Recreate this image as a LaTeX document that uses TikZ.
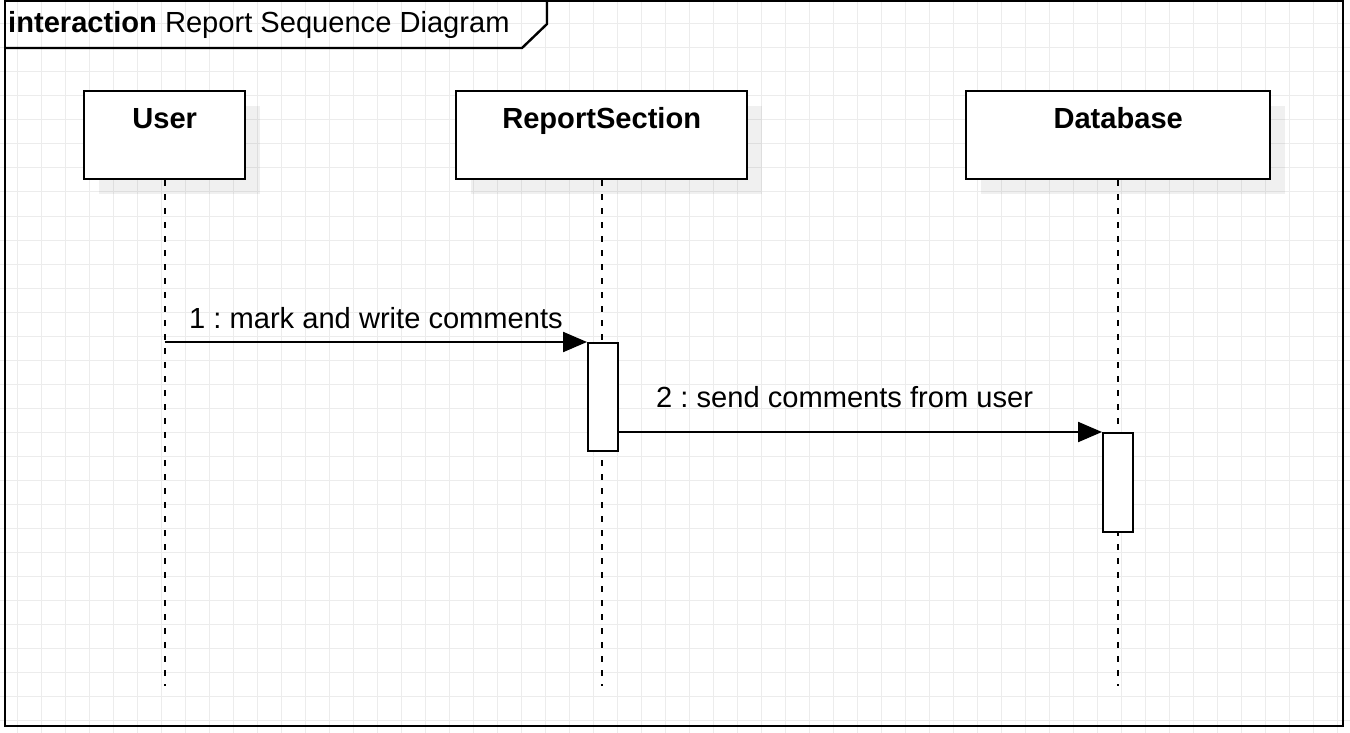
\documentclass[tikz,border=0pt]{standalone}
\usepackage{fontspec}
\setmainfont{Liberation Sans}
\usetikzlibrary{arrows.meta,shadows}
\frenchspacing

\definecolor{gridgray}{RGB}{236,236,236}
\newcommand{\diafont}{\fontsize{29.1}{34}\selectfont}

\begin{document}
\begin{tikzpicture}[x=1pt,y=-1pt,
    gridline/.style={draw=gridgray, line width=1pt},
    lifebox/.style={draw, line width=2.4pt, fill=white, anchor=north west,
      inner sep=0pt, minimum height=88pt, text height=20pt, text depth=34pt,
      font=\diafont\bfseries,
      drop shadow={shadow xshift=15pt, shadow yshift=-15pt, fill=black, opacity=0.06}},
    actbox/.style={draw, line width=2.2pt, fill=white, anchor=north west,
      inner sep=0pt, minimum width=30pt},
    lifeline/.style={line width=2.2pt, dash pattern=on 6pt off 8pt},
    msg/.style={line width=2.2pt, -{Triangle[length=24pt,width=20pt]}},
    msglabel/.style={anchor=base west, inner sep=0pt, font=\diafont}]
        \def \W {1350}
        \def \H {733}

        \fill[white] (0,0) rectangle (\W,\H);
        \useasboundingbox (0,0) rectangle (\W,\H);

        % background grid
        \foreach \gx in {17,41,...,1337}
          \draw[gridline] (\gx,0) -- (\gx,\H);
        \foreach \gy in {0,24,...,720}
          \draw[gridline] (0,\gy) -- (\W,\gy);

        % frame and its title tab
        \draw[line width=2.6pt] (5,1) rectangle (1343,726);
        \draw[line width=2.4pt] (5,48) -- (522,48) -- (547,24) -- (547,1);
        \node[msglabel] (title) at (8,33) {\textbf{interaction} Report Sequence Diagram};

        % lifelines
        \node[lifebox, minimum width=161pt] (user) at (83,90) {User};
        \node[lifebox, minimum width=291pt] (report) at (455,90) {ReportSection};
        \node[lifebox, minimum width=304pt] (db) at (965,90) {Database};
        \coordinate (lifeend) at (0,686);
        \foreach \p in {user,report,db}
          \draw[lifeline] (\p.south) -- (\p.south |- lifeend);

        % activations
        \node[actbox, minimum height=108pt] (act1) at (587,342) {};
        \node[actbox, minimum height=99pt] (act2) at (1102,432) {};

        % messages
        \draw[msg] (user.south |- act1.north) -- (act1.north west);
        \node[msglabel] (lbl1) at (189,328) {1 : mark and write comments};
        \draw[msg] (act1.east |- act2.north) -- (act2.north west);
        \node[msglabel] (lbl2) at (656,407) {2 : send comments from user};
\end{tikzpicture}
\end{document}
